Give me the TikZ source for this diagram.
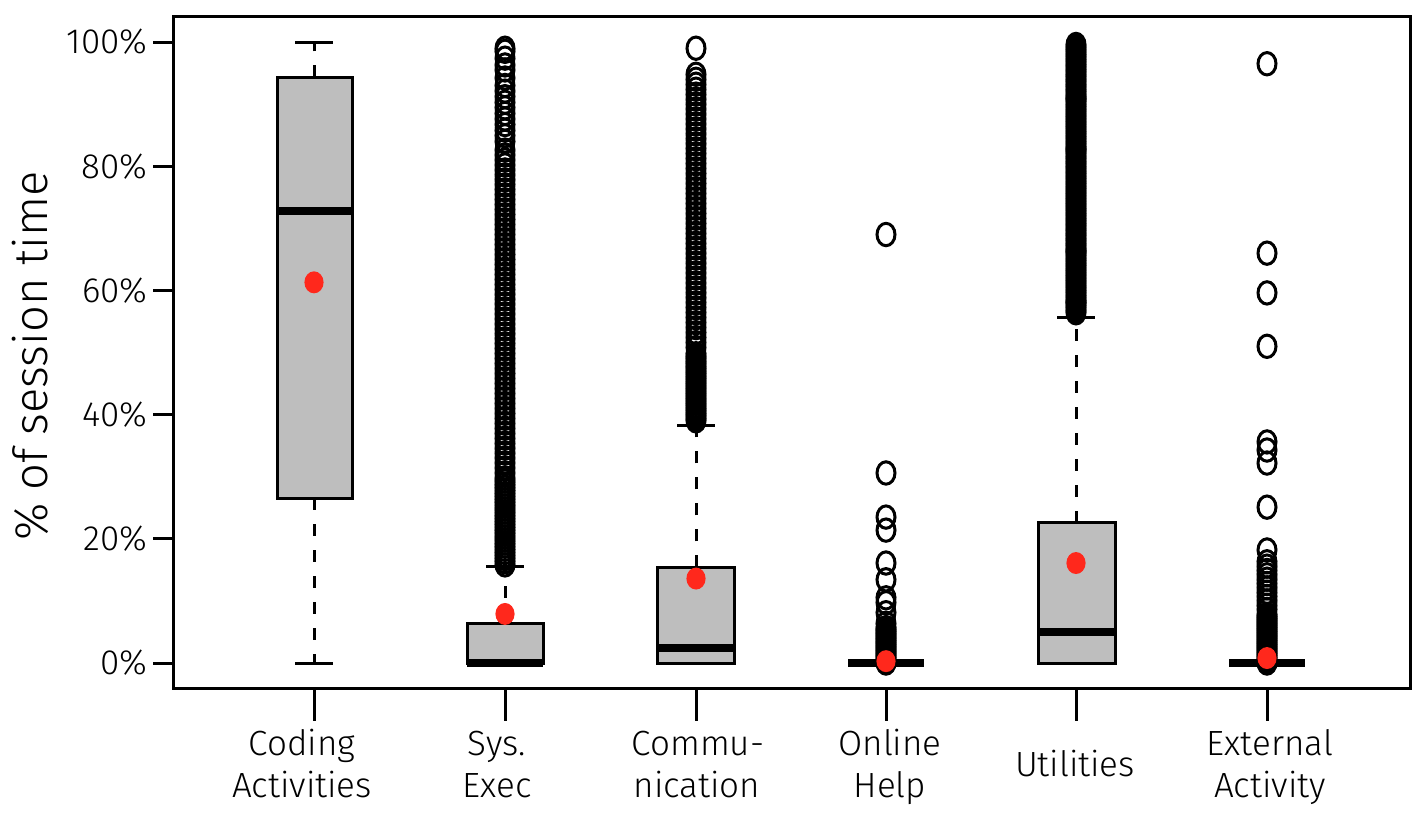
\documentclass[tikz,border=0pt]{standalone}
\usepackage{fontspec}
\setmainfont{Fira Sans Light}
\definecolor{boxgray}{RGB}{190,190,190}
\definecolor{meanred}{RGB}{255,40,28}
\begin{document}
\begin{tikzpicture}[x=0.5pt,y=-0.5pt,
  frameline/.style={line width=1.5pt},
  boxst/.style={draw=black,fill=boxgray,line width=1.5pt},
  medst/.style={line width=4pt},
  whisk/.style={line width=1.5pt,dash pattern=on 6pt off 7pt},
  capst/.style={line width=1.5pt},
  outl/.style={draw=black,line width=1.5pt},
  meanst/.style={fill=meanred},
  ticklab/.style={font=\fontsize{17.5}{21}\selectfont,anchor=east,inner sep=0pt},
  catlab/.style={font=\fontsize{17.5}{21}\selectfont,anchor=base,inner sep=0pt},
]
\useasboundingbox (0,0) rectangle (1425,821);
% frame
\draw[frameline] (173,16) rectangle (1410,688);
% x ticks
\foreach \xx in {314,505,696,886,1076,1267}{
  \draw[capst] (\xx,688) -- (\xx,721);
}
% category labels
\node[catlab] (c1a) at (302,755) {Coding};
\node[catlab] (c1b) at (302,797) {Activities};
\node[catlab] (c2a) at (497,755) {Sys.};
\node[catlab] (c2b) at (497,797) {Exec};
\node[catlab] (c3a) at (698,755) {Commu-};
\node[catlab] (c3b) at (697,797) {nication};
\node[catlab] (c4a) at (890,755) {Online};
\node[catlab] (c4b) at (890,797) {Help};
\node[catlab] (c5) at (1075,776) {Utilities};
\node[catlab] (c6a) at (1270,755) {External};
\node[catlab] (c6b) at (1270,797) {Activity};
% y title
\node[font=\fontsize{23.5}{27}\selectfont,rotate=90,inner sep=0pt] (ytitle) at (30,356) {\% of session time};
% data scope: x in px, y in percent
\begin{scope}[yshift=-331.5pt,y=3.105pt]
  \foreach \p in {0,20,...,100}{
    \draw[capst] (153,\p) -- (173,\p);
    \node[ticklab] (t\p) at (148,\p) {\p\%};
  }
  % ---- Coding Activities (x=314)
  \draw[whisk] (314,94.3) -- (314,100);
  \draw[whisk] (314,26.5) -- (314,0);
  \draw[capst] (295,100) -- (333,100);
  \draw[capst] (295,0) -- (333,0);
  \draw[boxst] (277,26.5) rectangle (352,94.3);
  \draw[medst] (277,72.8) -- (352,72.8);
  % ---- Sys. Exec (x=505)
  \draw[whisk] (505,6.3) -- (505,15.5);
  \draw[capst] (486,15.5) -- (524,15.5);
  \draw[boxst] (467,0) rectangle (543,6.3);
  \draw[medst] (467,0) -- (543,0);
  \foreach \p in {15.8,16.3,...,30,30.6,31.4,...,83,84,84.9,...,93.5,94.2,95.5,96.3,97.4,98.5,99}{
    \draw[outl] (505,\p) ellipse [x radius=4.5pt,y radius=5.6pt];
  }
  % ---- Communication (x=696)
  \draw[whisk] (696,15.4) -- (696,38.2);
  \draw[capst] (677,38.2) -- (715,38.2);
  \draw[boxst] (657,0) rectangle (734,15.4);
  \draw[medst] (657,2.4) -- (734,2.4);
  \foreach \p in {39,39.4,...,50,50.8,51.6,...,95.6,99}{
    \draw[outl] (696,\p) ellipse [x radius=4.5pt,y radius=5.6pt];
  }
  % ---- Online Help (x=886)
  \draw[medst] (848,0) -- (924,0);
  \foreach \p in {0,0.3,...,6,6.4,8.1,9.7,10.5,13.4,16.1,21.4,23.5,30.6,69}{
    \draw[outl] (886,\p) ellipse [x radius=4.5pt,y radius=5.6pt];
  }
  % ---- Utilities (x=1076)
  \draw[whisk] (1076,22.6) -- (1076,55.7);
  \draw[capst] (1057,55.7) -- (1095,55.7);
  \draw[boxst] (1038,0) rectangle (1115,22.6);
  \draw[medst] (1038,5) -- (1115,5);
  \foreach \p in {56.4,56.8,...,100,58.1,66.3,82.7,90.9}{
    \draw[outl] (1076,\p) ellipse [x radius=4.5pt,y radius=5.6pt];
  }
  % ---- External Activity (x=1267)
  \draw[medst] (1229,0) -- (1305,0);
  \foreach \p in {0,0.3,...,8,8.6,9.3,...,16.5,18.2,25.1,32.2,34.3,35.6,51,59.6,66,96.5}{
    \draw[outl] (1267,\p) ellipse [x radius=4.5pt,y radius=5.6pt];
  }
  % ---- means
  \fill[meanst] (314,61.3) ellipse [x radius=4.8pt,y radius=5.5pt];
  \fill[meanst] (505,7.9) ellipse [x radius=4.8pt,y radius=5.5pt];
  \fill[meanst] (696,13.6) ellipse [x radius=4.8pt,y radius=5.5pt];
  \fill[meanst] (886,0.3) ellipse [x radius=4.8pt,y radius=5.5pt];
  \fill[meanst] (1076,16.1) ellipse [x radius=4.8pt,y radius=5.5pt];
  \fill[meanst] (1267,0.8) ellipse [x radius=4.8pt,y radius=5.5pt];
\end{scope}
\end{tikzpicture}
\end{document}
